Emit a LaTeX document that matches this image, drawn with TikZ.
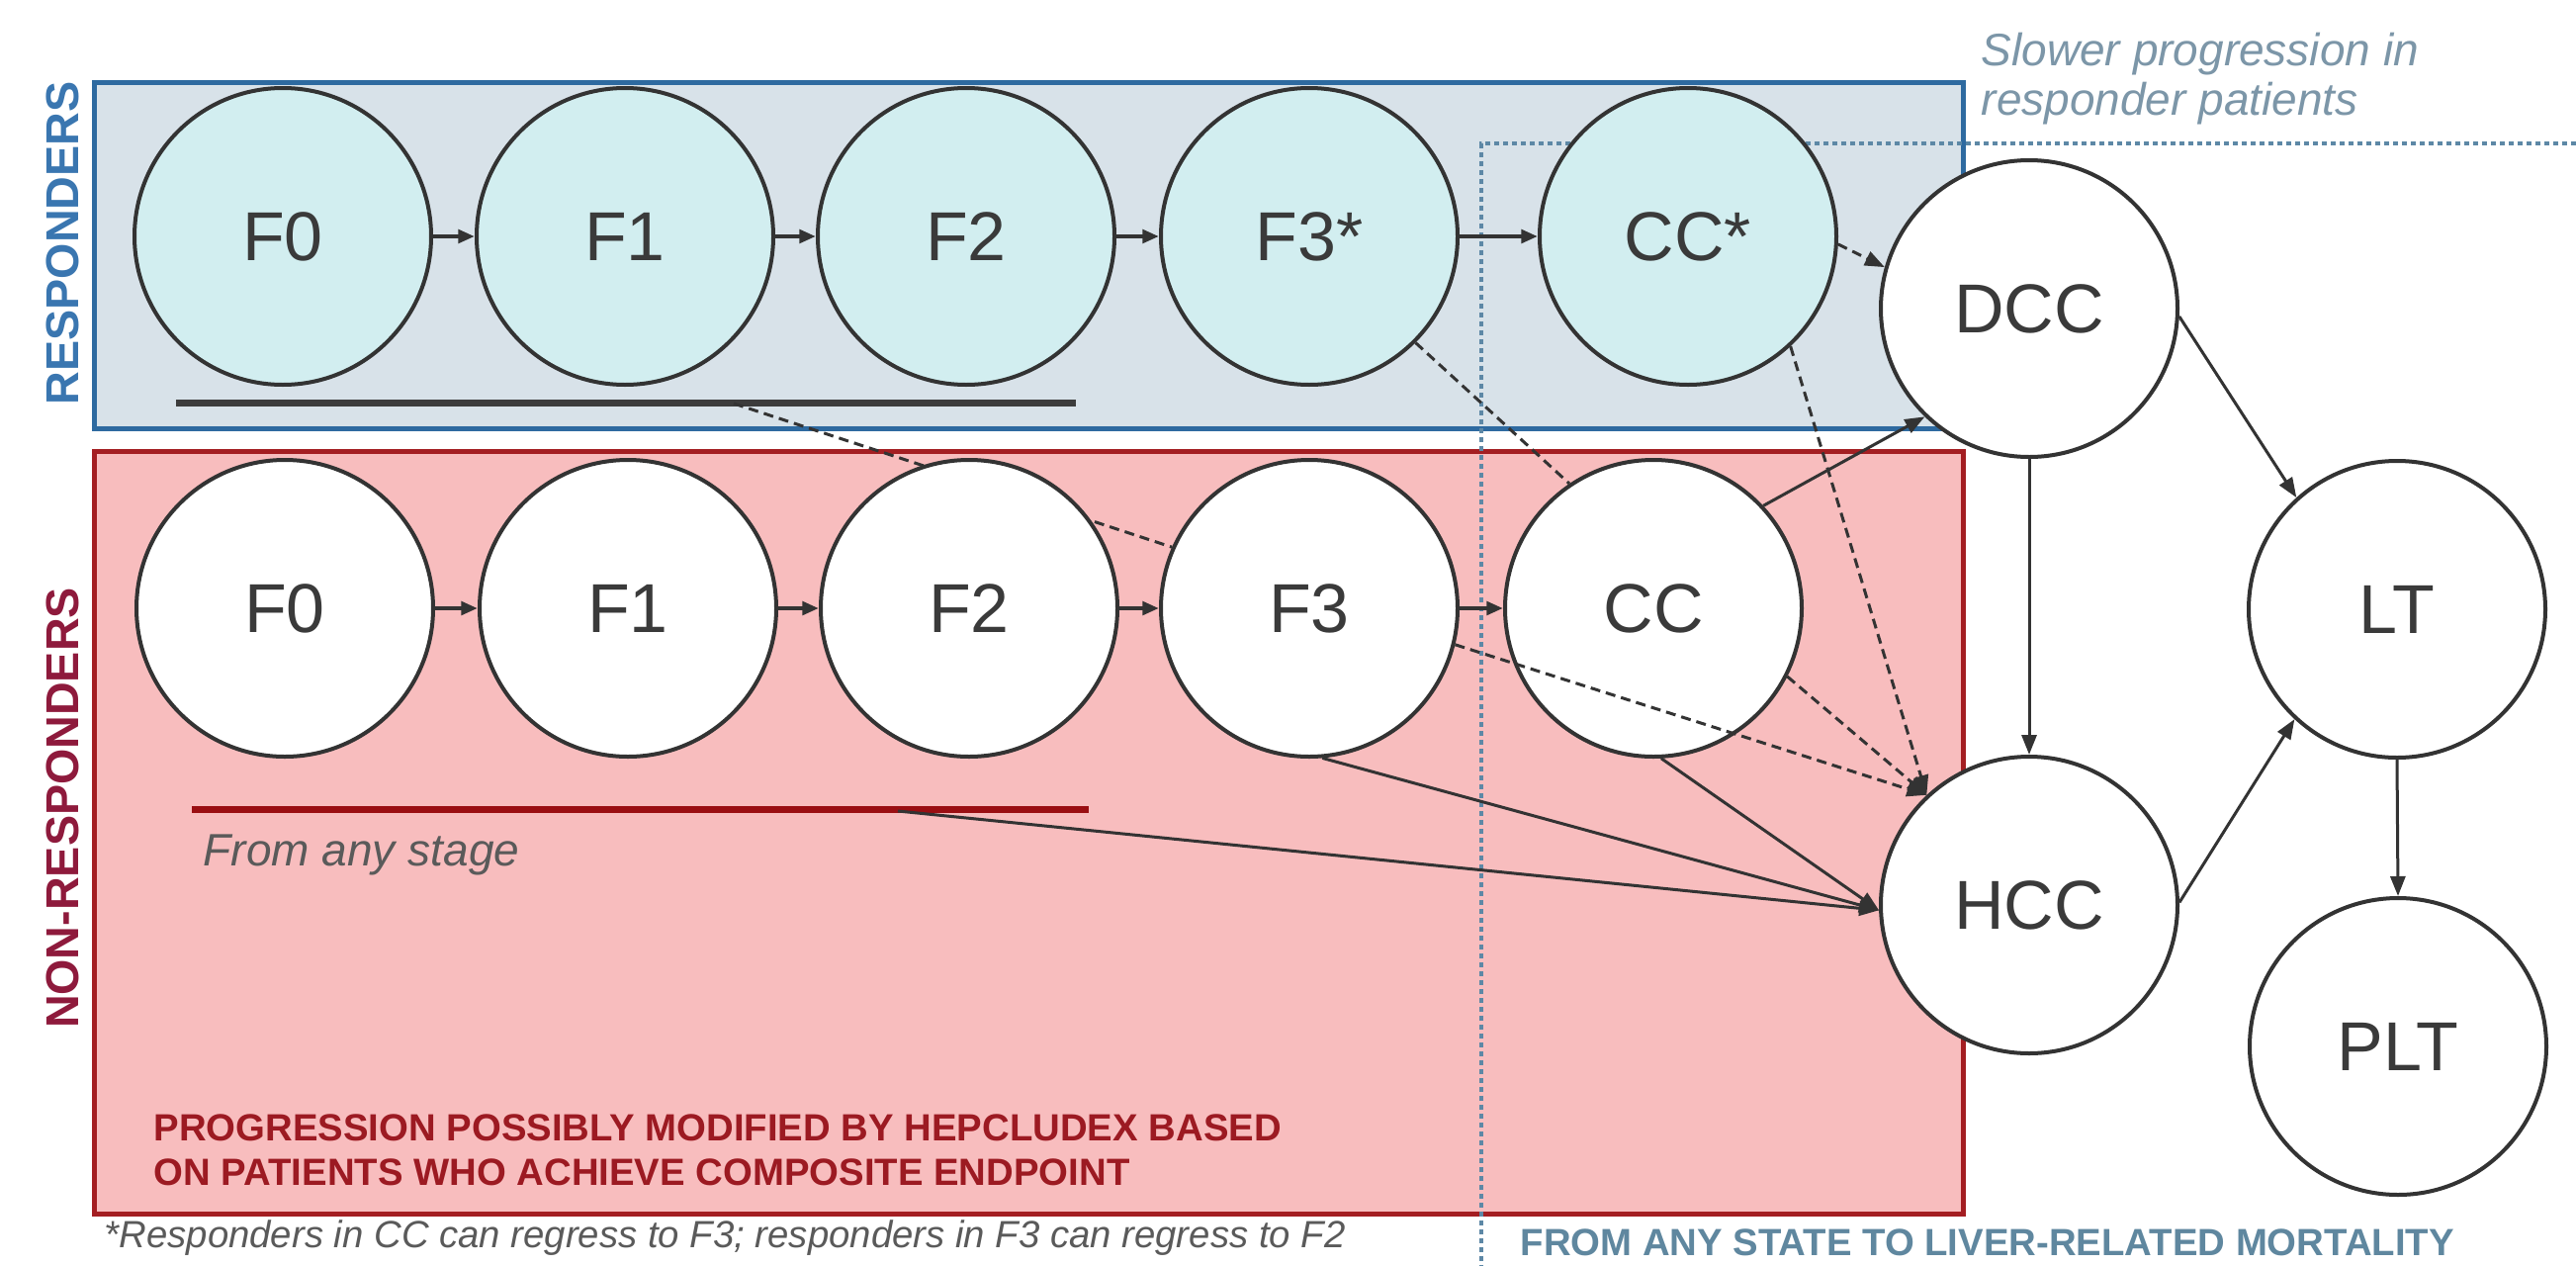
\documentclass[tikz,border=0pt]{standalone}
\usepackage{fontspec}
\setmainfont{Liberation Sans}
\usetikzlibrary{arrows.meta}
\definecolor{respboxfill}{HTML}{D8E2E9}
\definecolor{respborder}{HTML}{2E6AA0}
\definecolor{respfill}{HTML}{D2EEF0}
\definecolor{nrboxfill}{HTML}{F8BDBE}
\definecolor{nrborder}{HTML}{A41E22}
\definecolor{nodeline}{HTML}{333333}
\definecolor{nodetext}{HTML}{3A3A3A}
\definecolor{resptitle}{HTML}{3A76B0}
\definecolor{nrtitle}{HTML}{8E1A3C}
\definecolor{dotcol}{HTML}{5D88A6}
\definecolor{slowcol}{HTML}{7C96A8}
\definecolor{fromcol}{HTML}{5F879F}
\definecolor{progcol}{HTML}{9C1A22}
\definecolor{graytext}{HTML}{5A5A5A}
\definecolor{bardark}{HTML}{3C3C3C}
\definecolor{barred}{HTML}{9A0E12}
\pgfdeclarelayer{bg}
\pgfsetlayers{bg,main}
\begin{document}
\begin{tikzpicture}[x=0.3pt,y=-0.3pt,
  state/.style={circle, draw=nodeline, line width=1.2pt, minimum size=90pt, inner sep=0pt,
    font=\fontsize{21}{25}\selectfont, text=nodetext, fill=white},
  resp/.style={state, fill=respfill},
  rowarrow/.style={-{Triangle[length=5pt,width=4pt]}, line width=1.3pt, draw=nodeline},
  flow/.style={-{Triangle[length=6pt,width=4.5pt]}, line width=0.9pt, draw=nodeline},
  dflow/.style={flow, dash pattern=on 3pt off 1.8pt},
  dline/.style={line width=0.9pt, draw=nodeline, dash pattern=on 3pt off 1.8pt},
  dotline/.style={line width=1.2pt, draw=dotcol, dash pattern=on 1.4pt off 1.3pt},
  bar/.style={line width=2.1pt},
  boxstyle/.style={line width=1.5pt},
  ]
\useasboundingbox (0,0) rectangle (2605,1280);

% responder row
\node[resp] (rf0) at (286,239) {F0};
\node[resp] (rf1) at (632,239) {F1};
\node[resp] (rf2) at (977,239) {F2};
\node[resp] (rf3) at (1324,239) {F3*};
\node[resp] (rcc) at (1707,239) {CC*};
% non-responder row
\node[state] (nf0) at (288,615) {F0};
\node[state] (nf1) at (635,615) {F1};
\node[state] (nf2) at (980,615) {F2};
\node[state] (nf3) at (1324,615) {F3};
\node[state] (ncc) at (1672,615) {CC};
% outcome states
\node[state] (dcc) at (2052,312) {DCC};
\node[state] (hcc) at (2052,915) {HCC};
\node[state] (lt) at (2424,616) {LT};
\node[state] (plt) at (2425,1058) {PLT};

\begin{pgfonlayer}{bg}
  \draw[boxstyle, fill=respboxfill, draw=respborder] (95,83) rectangle (1985,433);
  \draw[boxstyle, fill=nrboxfill, draw=nrborder] (95,456) rectangle (1985,1227);
  \coordinate (dotC) at (1498,145);
  \coordinate (dotR) at (2605,145);
  \coordinate (dotB) at (1498,1280);
  \draw[dotline] (dotR) -- (dotC) -- (dotB);
  \coordinate (rbarL) at (178,407);
  \coordinate (rbarR) at (1088,407);
  \draw[bar, draw=bardark] (rbarL) -- (rbarR);
  \coordinate (nbarL) at (194,818);
  \coordinate (nbarR) at (1101,818);
  \draw[bar, draw=barred] (nbarL) -- (nbarR);
  \coordinate (rbarD) at (742,408);
  \draw[dline] (rbarD) -- (nf3.156);
\end{pgfonlayer}

% row arrows
\draw[rowarrow] (rf0) -- (rf1);
\draw[rowarrow] (rf1) -- (rf2);
\draw[rowarrow] (rf2) -- (rf3);
\draw[rowarrow] (rf3) -- (rcc);
\draw[rowarrow] (nf0) -- (nf1);
\draw[rowarrow] (nf1) -- (nf2);
\draw[rowarrow] (nf2) -- (nf3);
\draw[rowarrow] (nf3) -- (ncc);

% dashed transitions
\draw[dline] (rf3.-45) -- (ncc.124);
\draw[dflow] (rcc.-3) -- (dcc.164);
\draw[dflow] (rcc.-47) -- (hcc.133);
\draw[dflow] (nf3.-14) -- (hcc.133);
\draw[dflow] (ncc.-27) -- (hcc.133);

% solid transitions
\coordinate (nbarS) at (908,820);
\draw[flow] (ncc.43) -- (dcc.-134);
\draw[flow] (nf3.-85) -- (hcc.182);
\draw[flow] (ncc.-87) -- (hcc.182);
\draw[flow] (nbarS) -- (hcc.182);
\draw[flow] (dcc.south) -- (hcc.north);
\draw[flow] (dcc.-3) -- (lt.132);
\draw[flow] (hcc.1) -- (lt.-133);
\draw[flow] (lt.south) -- (plt.north);

% labels
\node[rotate=90, font=\fontsize{14}{16}\selectfont\bfseries, text=resptitle] (resplab) at (63,246) {RESPONDERS};
\node[rotate=90, font=\fontsize{14}{16}\selectfont\bfseries, text=nrtitle] (nrlab) at (63,817) {NON-RESPONDERS};
\node[anchor=west, align=left, font=\fontsize{13.8}{15}\selectfont\itshape, text=slowcol, inner sep=0pt] (slow) at (2003,80) {Slower progression in\\responder patients};
\node[anchor=west, font=\fontsize{13.8}{15}\selectfont\itshape, text=graytext, inner sep=0pt] (anystage) at (205,864) {From any stage};
\node[anchor=west, align=left, font=\fontsize{11.5}{13.5}\selectfont\bfseries, text=progcol, inner sep=0pt] (prog) at (155,1163) {PROGRESSION POSSIBLY MODIFIED BY HEPCLUDEX BASED\\ON PATIENTS WHO ACHIEVE COMPOSITE ENDPOINT};
\node[anchor=west, font=\fontsize{11.5}{13.5}\selectfont\itshape, text=graytext, inner sep=0pt] (foot) at (105,1252) {*Responders in CC can regress to F3; responders in F3 can regress to F2};
\node[anchor=west, font=\fontsize{11.5}{13.5}\selectfont\bfseries, text=fromcol, inner sep=0pt] (mort) at (1537,1256) {FROM ANY STATE TO LIVER-RELATED MORTALITY};
\end{tikzpicture}
\end{document}
